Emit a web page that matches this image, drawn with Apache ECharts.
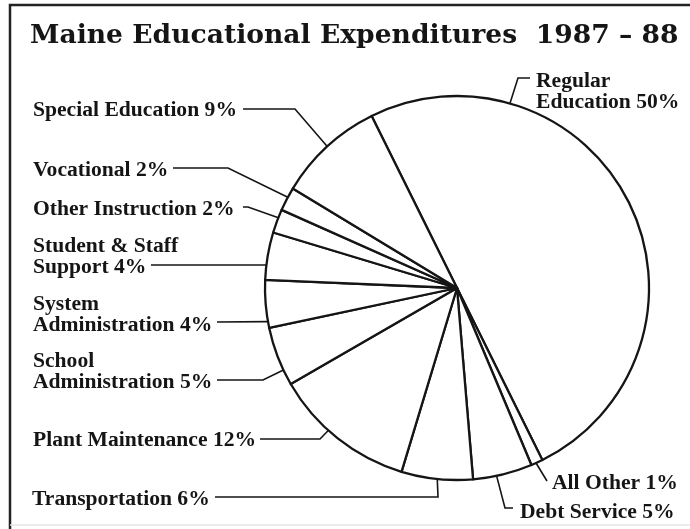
<!DOCTYPE html>
<html>
<head>
<meta charset="utf-8">
<script src="https://cdn.jsdelivr.net/npm/echarts@6/dist/echarts.min.js"></script>
<style>
  html, body { margin: 0; padding: 0; background: #ffffff; }
  #chart { width: 690px; height: 529px; }
</style>
</head>
<body>
<div id="chart"></div>
<script>
// Spending categories, clockwise from the top of the pie
const categories = [
  'Regular\nEducation',
  'All Other',
  'Debt Service',
  'Transportation',
  'Plant Maintenance',
  'School\nAdministration',
  'System\nAdministration',
  'Student & Staff\nSupport',
  'Other Instruction',
  'Vocational',
  'Special Education'
];
// Share of total expenditures, percent
const shares = [50, 1, 5, 6, 12, 5, 4, 4, 2, 2, 9];

const titleText = 'Maine Educational Expenditures  1987 \u2013 88';

// Pie geometry (pixels)
const CX = 457, CY = 288, R = 192;
const INK = '#151515';
const LABEL_FONT = '"Liberation Serif", "Times New Roman", serif';
const TITLE_FONT = '"DejaVu Serif", "Liberation Serif", serif';

// Label placement, one entry per category (same order):
// text anchor, the rim angle where the leader touches (degrees clockwise from 12 o'clock),
// then the remaining leader vertices.
const placement = [
  { x: 536, y: 92,  align: 'left', rim: 16.0,  path: [[518, 78], [530, 78]] },
  { x: 552, y: 483, align: 'left', rim: 155.7, path: [[547, 481]] },
  { x: 520, y: 512, align: 'left', rim: 168.1, path: [[505, 508], [513, 508]] },
  { x: 32,  y: 499, align: 'left', rim: 185.9, path: [[438, 497], [215, 497]] },
  { x: 33,  y: 440, align: 'left', rim: 222.1, path: [[320, 439], [260, 439]] },
  { x: 33,  y: 372, align: 'left', rim: 244.7, path: [[263, 380], [217, 380]] },
  { x: 33,  y: 315, align: 'left', rim: 259.9, path: [[217, 322]] },
  { x: 33,  y: 257, align: 'left', rim: 276.9, path: [[151, 265]] },
  { x: 33,  y: 209, align: 'left', rim: 291.5, path: [[248, 207], [243, 207]] },
  { x: 33,  y: 170, align: 'left', rim: 298.2, path: [[228, 168], [173, 168]] },
  { x: 33,  y: 110, align: 'left', rim: 317.5, path: [[295, 109], [243, 109]] }
];

function rimPoint(deg) {
  const a = deg * Math.PI / 180;
  return [CX + R * Math.sin(a), CY - R * Math.cos(a)];
}

const pieData = categories.map((name, i) => ({ name: name, value: shares[i] }));

const chart = echarts.init(document.getElementById('chart'), null, { renderer: 'canvas' });

chart.setOption({
  backgroundColor: '#ffffff',
  animation: false,
  title: {
    text: titleText,
    left: 30,
    top: 23,
    padding: 0,
    textStyle: {
      fontFamily: TITLE_FONT,
      fontWeight: 'bold',
      fontSize: 26.6,
      color: INK
    }
  },
  graphic: [
    {
      type: 'polyline',
      silent: true,
      shape: { points: [[10, 529], [10, 5], [690, 5]] },
      style: { stroke: '#222', lineWidth: 2.5, fill: null }
    },
    {
      type: 'line',
      silent: true,
      shape: { x1: 10, y1: 525, x2: 690, y2: 525 },
      style: { stroke: '#e4e4e4', lineWidth: 1.5 }
    }
  ],
  series: [
    {
      type: 'pie',
      center: [CX, CY],
      radius: R,
      startAngle: 116.4,
      clockwise: true,
      avoidLabelOverlap: false,
      silent: true,
      emphasis: { disabled: true },
      itemStyle: {
        color: '#ffffff',
        borderColor: INK,
        borderWidth: 2.3
      },
      label: {
        show: true,
        position: 'outside',
        formatter: p => p.name + ' ' + p.value + '%',
        fontFamily: LABEL_FONT,
        fontWeight: 'bold',
        fontSize: 21.6,
        lineHeight: 21,
        color: INK
      },
      labelLine: {
        show: true,
        lineStyle: { color: INK, width: 1.6 }
      },
      labelLayout: params => {
        const p = placement[params.dataIndex];
        return {
          x: p.x,
          y: p.y,
          align: p.align,
          verticalAlign: 'middle',
          labelLinePoints: [rimPoint(p.rim)].concat(p.path)
        };
      },
      data: pieData
    }
  ]
});
</script>
</body>
</html>
